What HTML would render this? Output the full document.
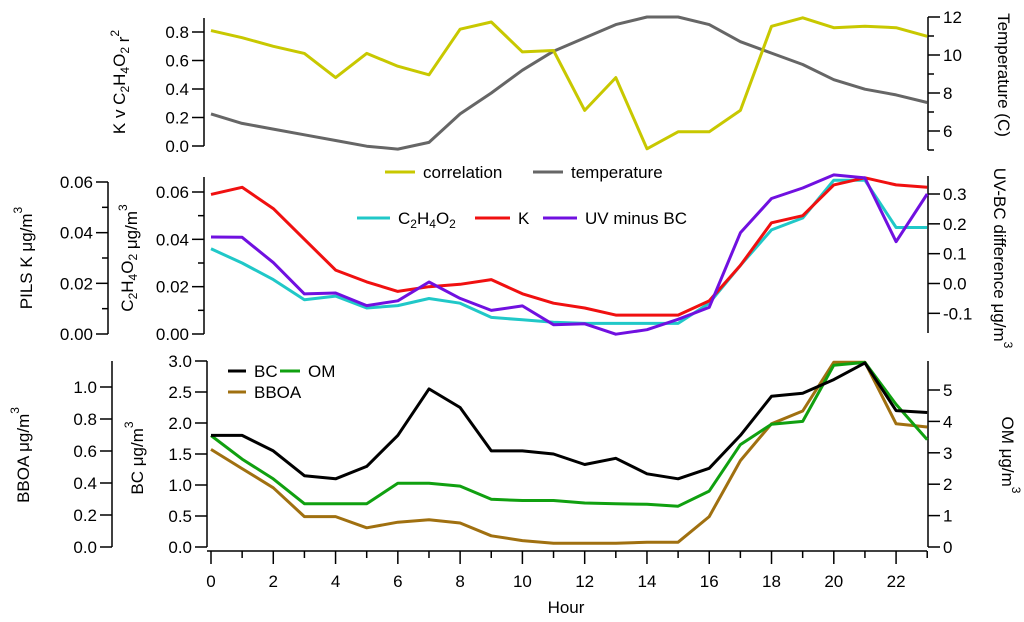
<!DOCTYPE html>
<html><head><meta charset="utf-8"><style>
body{margin:0;background:#fff}
svg{display:block;font-family:"Liberation Sans",sans-serif;font-size:17px}
</style></head><body>
<svg id="c" width="1024" height="622" xmlns="http://www.w3.org/2000/svg"></svg>
<script>
const hours=[0,1,2,3,4,5,6,7,8,9,10,11,12,13,14,15,16,17,18,19,20,21,22,23];
const xTicks=[0,2,4,6,8,10,12,14,16,18,20,22];
const correlation=[0.81,0.76,0.70,0.65,0.48,0.65,0.56,0.50,0.82,0.87,0.66,0.67,0.25,0.48,-0.02,0.10,0.10,0.25,0.84,0.90,0.83,0.84,0.83,0.77];
const temperature=[6.9,6.4,6.1,5.8,5.5,5.2,5.05,5.4,6.9,8.0,9.2,10.2,10.9,11.6,12,12,11.6,10.7,10.1,9.5,8.7,8.2,7.9,7.5];
const kConc=[0.059,0.062,0.053,0.040,0.027,0.022,0.018,0.020,0.021,0.023,0.017,0.013,0.011,0.008,0.008,0.008,0.014,0.029,0.047,0.050,0.063,0.066,0.063,0.062];
const c2h4o2=[0.036,0.030,0.023,0.0145,0.016,0.011,0.012,0.015,0.013,0.007,0.006,0.005,0.0045,0.0045,0.0045,0.0045,0.013,0.029,0.044,0.049,0.065,0.065,0.045,0.045];
const uvMinusBC=[0.156,0.155,0.07,-0.035,-0.032,-0.074,-0.058,0.005,-0.05,-0.09,-0.075,-0.138,-0.135,-0.17,-0.155,-0.12,-0.08,0.17,0.285,0.32,0.364,0.354,0.14,0.30];
const bc=[1.8,1.8,1.55,1.15,1.1,1.3,1.8,2.55,2.25,1.55,1.55,1.5,1.33,1.43,1.18,1.1,1.27,1.8,2.43,2.48,2.7,2.97,2.2,2.17];
const om=[3.55,2.8,2.17,1.38,1.38,1.38,2.03,2.03,1.94,1.52,1.48,1.48,1.4,1.38,1.36,1.3,1.78,3.26,3.91,4.0,5.79,5.88,4.54,3.42];
const bboa=[0.61,0.49,0.37,0.19,0.19,0.12,0.155,0.17,0.15,0.07,0.04,0.023,0.023,0.023,0.03,0.03,0.19,0.54,0.77,0.85,1.155,1.155,0.77,0.75];

const S=document.getElementById('c');const NS='http://www.w3.org/2000/svg';
function el(t,a,txt){const e=document.createElementNS(NS,t);for(const k in a)e.setAttribute(k,a[k]);if(txt!==undefined)e.textContent=txt;S.appendChild(e);return e;}
const X=h=>211+h*31.14;
function lin(v0,p0,v1,p1){return v=>p0+(v-v0)*(p1-p0)/(v1-v0);}
const yCorr=lin(0,146,0.8,32), yTemp=lin(6,131,12,17);
const yC2=lin(0,334,0.06,192), yK=yC2, yUV=lin(0,283.5,0.3,194);
const yBC=lin(0,547,3,361), yOM=lin(0,547,5,390), yBB=lin(0,547,1,387);

function line(x1,y1,x2,y2,w){return el('line',{x1,y1,x2,y2,stroke:'#000','stroke-width':w||1.5});}
function txt(x,y,s,anchor,name){const t=el('text',{x,y,'text-anchor':anchor||'middle',fill:'#000'},s);return t;}
function yAxis(x,y0,y1,sc,ticks,fmt,dir,minor,name){
  const a=line(x,y0,x,y1);
  ticks.forEach(v=>{const y=sc(v);line(x,y,x+dir*12,y);txt(dir<0?x-15:x+15,y+6,fmt(v),dir<0?'end':'start');});
  (minor||[]).forEach(v=>{const y=sc(v);line(x,y,x+dir*6,y);});
}
function series(arr,sc,color,name){
  const d=arr.map((v,i)=>(i?'L':'M')+X(hours[i]).toFixed(1)+','+sc(v).toFixed(1)).join('');
  const p=el('path',{d,fill:'none',stroke:color,'stroke-width':3,'stroke-linejoin':'round'});
  
}
function rlabel(x,y,rot,html,name){const g=document.createElementNS(NS,'text');g.setAttribute('transform',`translate(${x},${y}) rotate(${rot})`);g.setAttribute('text-anchor','middle');g.innerHTML=html;S.appendChild(g);}
function legend(x1,x2,y,color,label,name){const l=el('line',{x1,y1:y,x2,y2:y,stroke:color,'stroke-width':3});const t=document.createElementNS(NS,'text');t.setAttribute('x',x2+8);t.setAttribute('y',y+6);t.innerHTML=label;S.appendChild(t);}
const f1=v=>v.toFixed(1), f2=v=>v.toFixed(2), f0=v=>String(v);
const sub=s=>`<tspan dy="4" font-size="12">${s}</tspan><tspan dy="-4">`;
const C2=`C${sub('2')}H</tspan>${sub('4')}O</tspan>${sub('2')}</tspan>`;

// top panel
yAxis(204,18,146,yCorr,[0,0.2,0.4,0.6,0.8],f1,-1,[],'correlation-axis');
yAxis(928,17,150,yTemp,[6,8,10,12],f0,1,[5,7,9,11],'temperature-axis');
series(temperature,yTemp,'#666666','temperature-line');
series(correlation,yCorr,'#c8c800','correlation-line');
rlabel(125,82,-90,`K v ${C2} r<tspan dy="-10" font-size="12">2</tspan>`,'correlation-axis-title');
rlabel(998,75,90,'Temperature (C)','temperature-axis-title');
legend(385,415,172,'#c8c800','correlation','legend-correlation');
legend(533,563,172,'#666666','temperature','legend-temperature');

// middle panel
yAxis(108,182,334,lin(0,334,0.06,182),[0,0.02,0.04,0.06],f2,-1,[0.01,0.03,0.05],'pils-k-axis');
yAxis(204,177,334,yC2,[0,0.02,0.04,0.06],f2,-1,[0.01,0.03,0.05],'c2h4o2-axis');
yAxis(928,176,333,yUV,[-0.1,0,0.1,0.2,0.3],f1,1,[],'uv-bc-axis');
series(c2h4o2,yC2,'#20c8c8','c2h4o2-line');
series(kConc,yK,'#f01010','k-line');
series(uvMinusBC,yUV,'#7010e0','uv-minus-bc-line');
rlabel(32,258,-90,'PILS K μg/m<tspan dy="-10" font-size="12">3</tspan>','pils-k-axis-title');
rlabel(133,258,-90,`${C2} μg/m<tspan dy="-10" font-size="12">3</tspan>`,'c2h4o2-axis-title');
rlabel(994,258,90,'UV-BC difference μg/m<tspan dy="-10" font-size="12">3</tspan>','uv-bc-axis-title');
legend(357,390,218,'#20c8c8',C2,'legend-c2h4o2');
legend(475,510,218,'#f01010','K','legend-k');
legend(543,577,218,'#7010e0','UV minus BC','legend-uv-minus-bc');

// bottom panel
yAxis(112,361,547,yBB,[0,0.2,0.4,0.6,0.8,1.0],f1,-1,[],'bboa-axis');
yAxis(207,361,547,yBC,[0,0.5,1,1.5,2,2.5,3],f1,-1,[],'bc-axis');
yAxis(928,361,547,yOM,[0,1,2,3,4,5],f0,1,[],'om-axis');
series(bboa,yBB,'#a07010','bboa-line');
series(om,yOM,'#10a010','om-line');
series(bc,yBC,'#000000','bc-line');
rlabel(29,455,-90,'BBOA μg/m<tspan dy="-10" font-size="12">3</tspan>','bboa-axis-title');
rlabel(143,458,-90,'BC  μg/m<tspan dy="-10" font-size="12">3</tspan>','bc-axis-title');
rlabel(1002,455,90,'OM μg/m<tspan dy="-10" font-size="12">3</tspan>','om-axis-title');
legend(228,246,371,'#000','BC','legend-bc');
legend(280,300,371,'#10a010','OM','legend-om');
legend(228,246,392,'#a07010','BBOA','legend-bboa');

// x axis
const xa=line(207,551,927,551);
hours.forEach(h=>{line(X(h),551,X(h),h%2?558:564);});
xTicks.forEach(h=>txt(X(h),587,String(h),'middle','x-tick-label'));
txt(566,613,'Hour','middle','x-axis-title');
</script>
</body></html>
